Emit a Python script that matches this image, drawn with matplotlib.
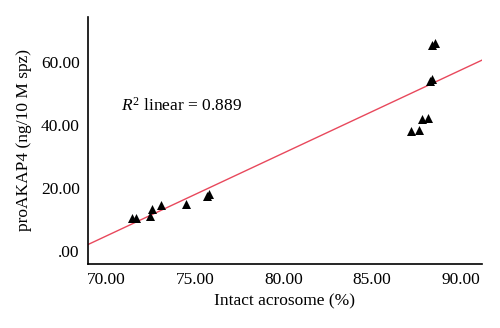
import numpy as np
import matplotlib
matplotlib.use("Agg")
import matplotlib.pyplot as plt

plt.rcParams['font.family'] = ['Liberation Serif', 'DejaVu Serif']
plt.rcParams['mathtext.fontset'] = 'custom'
plt.rcParams['mathtext.rm'] = 'Liberation Serif'
plt.rcParams['mathtext.it'] = 'Liberation Serif:italic'

acrosome = [71.47, 71.66, 72.45, 72.56, 73.07, 74.48, 75.66, 75.81,
            88.40, 88.57, 88.24, 88.35, 87.82, 88.14, 87.20, 87.63]
proakap4 = [10.25, 10.5, 11.2, 13.3, 14.4, 14.9, 17.3, 18.1,
            65.5, 66.1, 54.0, 54.6, 41.9, 42.4, 38.1, 38.4]
fit_slope = 2.64
fit_intercept = -180.1
xticks = [70, 75, 80, 85, 90]
yticks = [0, 20, 40, 60]
ytick_labels = ['.00', '20.00', '40.00', '60.00']
xtick_labels = ['70.00', '75.00', '80.00', '85.00', '90.00']

fig = plt.figure(figsize=(5, 3.28), dpi=100)
ax = fig.add_axes([88/500, 1-263.5/328, (482-88)/500, (263.5-17)/328])

x = np.array(acrosome)
y = np.array(proakap4)
xl = np.array([68.96, 91.2])
ax.plot(xl, fit_slope*xl + fit_intercept, color='#e8485c', lw=1.0, zorder=1)
ax.scatter(x, y, marker='^', s=42, color='black', zorder=2, linewidths=0)

ax.set_xlim(68.96, 91.2)
ax.set_ylim(-4.08, 74.4)
ax.set_xticks(xticks)
ax.set_xticklabels(xtick_labels)
ax.set_yticks(yticks)
ax.set_yticklabels(ytick_labels)
ax.tick_params(length=0, labelsize=12.5, pad=6)
for s in ['top', 'right']:
    ax.spines[s].set_visible(False)
for s in ['left', 'bottom']:
    ax.spines[s].set_linewidth(1.2)
ax.set_xlabel('Intact acrosome (%)', fontsize=12.5, labelpad=4)
ax.set_ylabel('proAKAP4 (ng/10 M spz)', fontsize=12.5, labelpad=6)
ax.text(70.82, 46.1, r'$\mathit{R}^{2}$ linear = 0.889', fontsize=12.5, va='center', ha='left')
fig.savefig('out.png', dpi=100)
